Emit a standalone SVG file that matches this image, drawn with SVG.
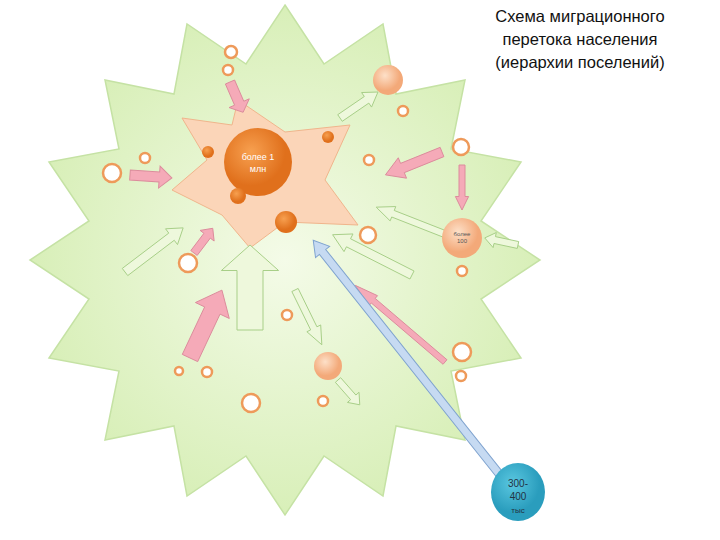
<svg xmlns="http://www.w3.org/2000/svg" xmlns:xlink="http://www.w3.org/1999/xlink" width="720" height="540" viewBox="0 0 720 540">
<style>
.ring{fill:#fff;stroke:#ee9a5a;stroke-width:2.5}
.pk{fill:#f5aab8;stroke:#dc8c9c}
.gr{fill:#eef8dc;stroke:#a8cf88}
.bl{fill:#c6daf2;stroke:#7fa3cf}
text{font-family:"Liberation Sans",Arial,sans-serif}
</style>
<defs>
<path id="ar" d="M0,-5 L70,-5 L70,-11 L100,0 L70,11 L70,5 L0,5 Z" vector-effect="non-scaling-stroke"/>
<path id="arM" d="M0,-5 L80,-5 L80,-11 L100,0 L80,11 L80,5 L0,5 Z" vector-effect="non-scaling-stroke"/>
<radialGradient id="bg" cx="50%" cy="50%"><stop offset="0" stop-color="#f4fbe8"/><stop offset="1" stop-color="#d8efb8"/></radialGradient>
<radialGradient id="pe" cx="40%" cy="35%"><stop offset="0" stop-color="#fde0c8"/><stop offset="1" stop-color="#f3a979"/></radialGradient>
<radialGradient id="or" cx="40%" cy="35%"><stop offset="0" stop-color="#f7a050"/><stop offset="1" stop-color="#e0701c"/></radialGradient>
<radialGradient id="te" cx="40%" cy="35%"><stop offset="0" stop-color="#5ac7e0"/><stop offset="1" stop-color="#2a9dbd"/></radialGradient>
</defs>
<rect width="720" height="540" fill="#fff"/>
<g id="bigstar"><polygon fill="url(#bg)" stroke="#c5e2a4" stroke-width="1.5" points="285,5 324,64 383,24 396,94 465,80 451,149 521,162 481,221 540,260 481,299 521,358 451,371 465,440 396,426 383,496 324,456 285,515 246,456 187,496 174,426 105,440 119,371 49,358 89,299 30,260 89,221 49,162 119,149 105,80 174,94 187,24 246,64"/></g>
<g id="city"><polygon fill="#fbd5b8" stroke="#f0b58c" points="238,100 285,132 350,125 325,180 358,225 285,222 250,248 222,215 172,190 207,160 182,118 232,125"/></g>
<g id="connectors">
<use xlink:href="#ar" class="pk" transform="translate(230,82) rotate(66.6) scale(.33,1)"/>
<use xlink:href="#ar" class="gr" transform="translate(340,118) rotate(-34.4) scale(.46,.8)"/>
<use xlink:href="#ar" class="pk" transform="translate(130,175) rotate(4) scale(.42,1)"/>
<use xlink:href="#ar" class="pk" transform="translate(442,152) rotate(158) scale(.61,1)"/>
<use xlink:href="#arM" class="gr" transform="translate(460,240) rotate(201.4) scale(.9,.7)"/>
<use xlink:href="#ar" class="pk" transform="translate(462,165) rotate(90) scale(.45,.6)"/>
<use xlink:href="#ar" class="gr" transform="translate(518,245) rotate(192) scale(.34,.7)"/>
<use xlink:href="#arM" class="gr" transform="translate(125,272) rotate(-37.2) scale(.73,.9)"/>
<use xlink:href="#ar" class="pk" transform="translate(194,253) rotate(-52.8) scale(.31,.8)"/>
<use xlink:href="#ar" class="gr" transform="translate(250,330) rotate(-90) scale(.85,2.6)"/>
<use xlink:href="#ar" class="pk" transform="translate(190,358) rotate(-64.8) scale(.75,1.7)"/>
<use xlink:href="#arM" class="gr" transform="translate(412,275) rotate(206.9) scale(.89,.9)"/>
<use xlink:href="#ar" class="gr" transform="translate(295,290) rotate(63.9) scale(.61,.7)"/>
<use xlink:href="#arM" class="pk" transform="translate(445,362) rotate(220.5) scale(1.18,.6)"/>
<use xlink:href="#ar" class="gr" transform="translate(338,380) rotate(48.7) scale(.33,.7)"/>
<path class="bl" transform="translate(500,475) rotate(231.5)" d="M0,-4 L285,-4 L285,-9 L300,0 L285,9 L285,4 L0,4 Z"/>
</g>
<g id="rings">
<circle class="ring" cx="231" cy="52" r="6"/><circle class="ring" cx="228" cy="70" r="5"/>
<circle class="ring" cx="403" cy="111" r="5"/><circle class="ring" cx="461" cy="147" r="8"/>
<circle class="ring" cx="145" cy="158" r="5"/><circle class="ring" cx="112" cy="173" r="9"/>
<circle class="ring" cx="369" cy="160" r="5"/><circle class="ring" cx="368" cy="235" r="8"/>
<circle class="ring" cx="188" cy="263" r="9"/><circle class="ring" cx="287" cy="315" r="5"/>
<circle class="ring" cx="179" cy="371" r="4"/><circle class="ring" cx="207" cy="372" r="5"/>
<circle class="ring" cx="462" cy="352" r="9"/><circle class="ring" cx="461" cy="376" r="5"/>
<circle class="ring" cx="251" cy="403" r="9"/><circle class="ring" cx="323" cy="401" r="5"/>
<circle class="ring" cx="462" cy="271" r="5"/>
</g>
<g id="n1"><circle cx="258" cy="162" r="34" fill="url(#or)"/><text x="258" y="160" font-size="9" fill="#fff" text-anchor="middle">более 1</text><text x="258" y="172" font-size="9" fill="#fff" text-anchor="middle">млн</text></g>
<g id="sm"><circle cx="208" cy="152" r="6" fill="url(#or)"/><circle cx="328" cy="137" r="6" fill="url(#or)"/><circle cx="238" cy="196" r="8" fill="url(#or)"/><circle cx="286" cy="222" r="11" fill="url(#or)"/></g>
<g id="n2"><circle cx="388" cy="80" r="15" fill="url(#pe)"/></g>
<g id="n3"><circle cx="462" cy="238" r="20" fill="url(#pe)"/><text x="462" y="236" font-size="6" fill="#555" text-anchor="middle">более</text><text x="462" y="243" font-size="6" fill="#555" text-anchor="middle">100</text></g>
<g id="n4"><circle cx="328" cy="366" r="14" fill="url(#pe)"/></g>
<g id="n5"><ellipse cx="518" cy="492" rx="27" ry="29" fill="url(#te)"/><text x="518" y="487" font-size="10" fill="#234" text-anchor="middle">300-</text><text x="518" y="500" font-size="10" fill="#234" text-anchor="middle">400</text><text x="518" y="513" font-size="8" fill="#234" text-anchor="middle">тыс</text></g>
<g id="title" font-size="16.5" fill="#111" text-anchor="middle"><text x="580" y="22">Схема миграционного</text><text x="580" y="45">перетока населения</text><text x="580" y="68">(иерархии поселений)</text></g>
</svg>
